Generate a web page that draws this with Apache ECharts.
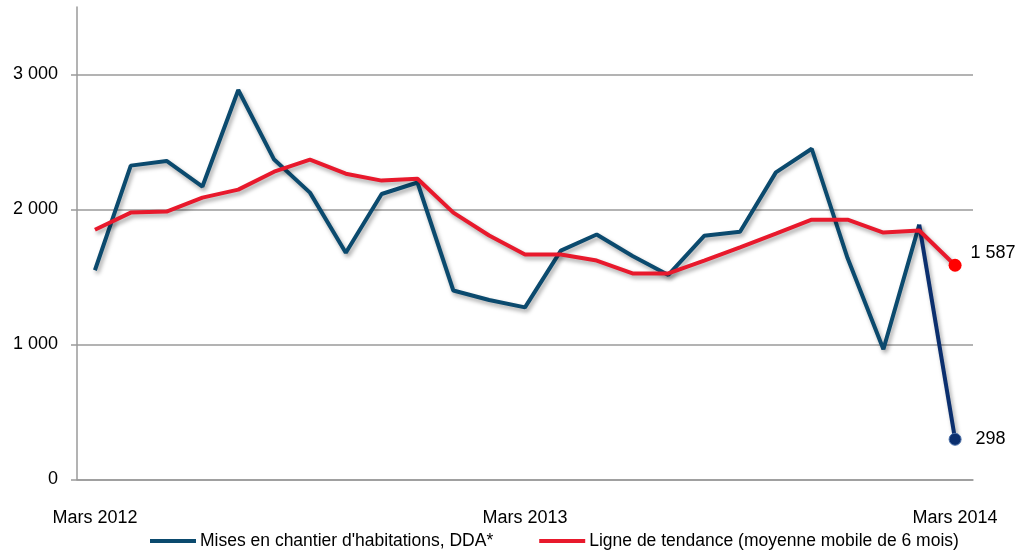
<!DOCTYPE html>
<html>
<head>
<meta charset="utf-8">
<script src="https://cdn.jsdelivr.net/npm/echarts@6/dist/echarts.min.js"></script>
<style>
html,body{margin:0;padding:0;background:#fff;}
#c{width:1020px;height:557px;}
</style>
</head>
<body>
<div id="c"></div>
<script>
var months = ['Mars 2012','Avril 2012','Mai 2012','Juin 2012','Juillet 2012','Août 2012','Septembre 2012','Octobre 2012','Novembre 2012','Décembre 2012','Janvier 2013','Février 2013',
  'Mars 2013','Avril 2013','Mai 2013','Juin 2013','Juillet 2013','Août 2013','Septembre 2013','Octobre 2013','Novembre 2013','Décembre 2013','Janvier 2014','Février 2014','Mars 2014'];
var miseEnChantier = [1550, 2325, 2360, 2170, 2885, 2370, 2125, 1680, 2115, 2200, 1400, 1330, 1275, 1695, 1815, 1655, 1515, 1805, 1835, 2275, 2450, 1640, 965, 1888, 298];
var tendance = [1850, 1977, 1985, 2088, 2147, 2280, 2369, 2265, 2214, 2228, 1977, 1807, 1667, 1667, 1622, 1526, 1526, 1622, 1720, 1822, 1925, 1925, 1829, 1844, 1587];
var yTicks = [0, 1000, 2000, 3000];
var seriesNames = ["Mises en chantier d'habitations, DDA*", 'Ligne de tendance (moyenne mobile de 6 mois)'];

var last = miseEnChantier.length - 1;
function fmt(v){ return String(v).replace(/\B(?=(\d{3})+(?!\d))/g, ' '); }
var FONT = 'Liberation Sans';
var shadow = {shadowColor:'rgba(0,0,0,0.35)', shadowBlur:4, shadowOffsetX:2, shadowOffsetY:3};

var blueMain = miseEnChantier.map(function(v,i){ return i < last ? v : null; });
var blueLast = miseEnChantier.map(function(v,i){ return i >= last-1 ? v : null; });

var chart = echarts.init(document.getElementById('c'), null, {renderer:'canvas'});
chart.setOption({
  animation:false,
  textStyle:{fontFamily:FONT},
  grid:{left:77, right:47, top:7, bottom:77.5, containLabel:false},
  legend:{
    left:150, top:532, padding:0, itemWidth:46, itemHeight:4, itemGap:46, icon:'rect',
    textStyle:{fontFamily:FONT, fontSize:17.5, color:'#000', padding:[0,0,0,-1]},
    data:[{name:seriesNames[0], itemStyle:{color:'#0b4a6e'}}, {name:seriesNames[1], itemStyle:{color:'#e8192c'}}]
  },
  xAxis:{
    type:'category', data:months, boundaryGap:true,
    axisLine:{show:true, lineStyle:{color:'#9a9a9a', width:1.5}},
    axisTick:{show:false},
    axisLabel:{interval:11, margin:30, color:'#000', fontSize:18, fontFamily:FONT},
    splitLine:{show:false}
  },
  yAxis:{
    type:'value', min:0, max:3500, interval:1000,
    axisLine:{show:true, lineStyle:{color:'#9a9a9a', width:1.5}},
    axisTick:{show:true, length:6, customValues:yTicks, lineStyle:{color:'#9a9a9a', width:1.5}},
    axisLabel:{customValues:yTicks, margin:19, color:'#000', fontSize:18, fontFamily:FONT, formatter:function(v){ return fmt(v); }},
    splitLine:{show:true, lineStyle:{color:['#9a9a9a','#9a9a9a','#9a9a9a','#9a9a9a','rgba(0,0,0,0)'], width:1.5}}
  },
  series:[
    {
      name:seriesNames[0], type:'line', data:blueMain, symbol:'none', connectNulls:false,
      lineStyle:Object.assign({color:'#0b4a6e', width:4}, shadow),
      itemStyle:{color:'#0b4a6e'}, z:3
    },
    {
      name:'_last', type:'line', data:blueLast, symbol:'circle',
      symbolSize:function(v,p){ return p.dataIndex === last ? 12 : 0; },
      lineStyle:Object.assign({color:'#0b2f6e', width:4}, shadow),
      itemStyle:{color:'#0b2f6e', borderColor:'#4a6fa8', borderWidth:1},
      label:{show:true, position:'right', distance:14, color:'#000', fontSize:18, fontFamily:FONT,
        formatter:function(p){ return p.dataIndex === last ? fmt(p.value) : ''; }},
      z:3
    },
    {
      name:seriesNames[1], type:'line', data:tendance, symbol:'circle',
      symbolSize:function(v,p){ return p.dataIndex === last ? 13 : 0; },
      lineStyle:Object.assign({color:'#e8192c', width:4}, shadow),
      itemStyle:{color:'#ff0000'},
      label:{show:true, position:'right', distance:9, offset:[0,-12], color:'#000', fontSize:18, fontFamily:FONT,
        formatter:function(p){ return p.dataIndex === last ? fmt(p.value) : ''; }},
      z:4
    }
  ]
});
</script>
</body>
</html>
